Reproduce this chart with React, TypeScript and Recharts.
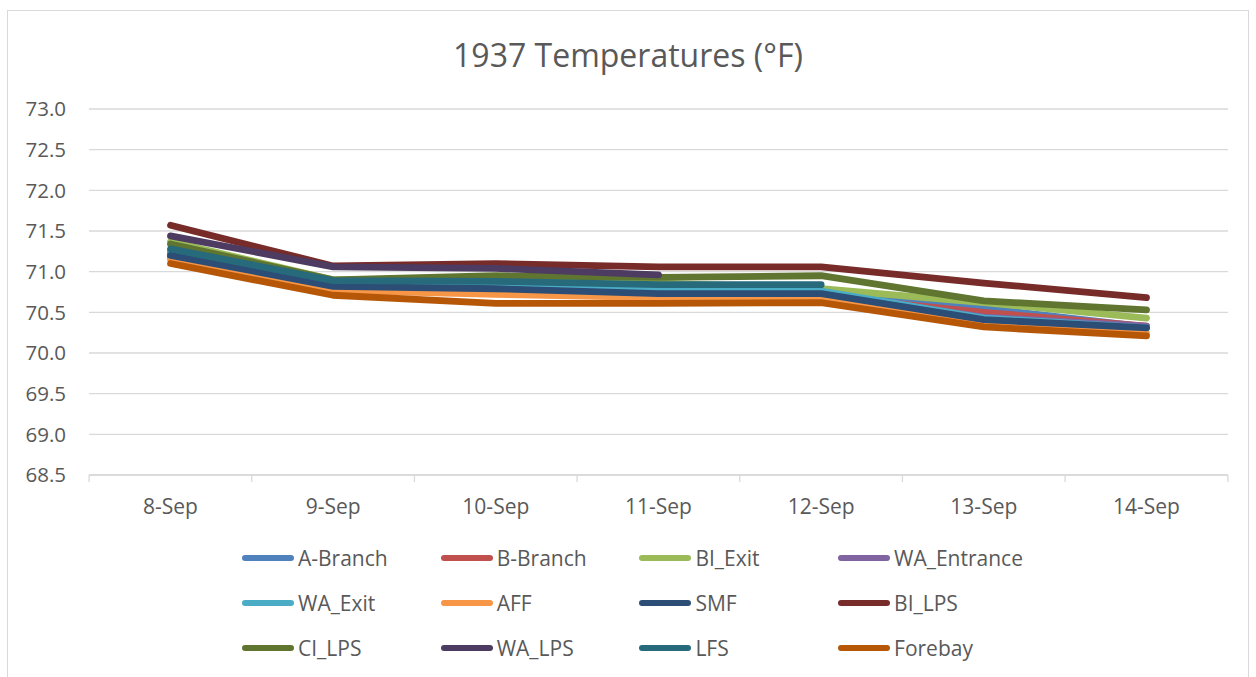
import React from "react";
import {
  LineChart,
  Line,
  XAxis,
  YAxis,
  CartesianGrid,
  Legend,
} from "recharts";

const dates = ["8-Sep", "9-Sep", "10-Sep", "11-Sep", "12-Sep", "13-Sep", "14-Sep"];
const yTicks = [68.5, 69.0, 69.5, 70.0, 70.5, 71.0, 71.5, 72.0, 72.5, 73.0];

const aBranch = [71.25, 70.84, 70.82, 70.77, 70.76, 70.55, 70.32];
const bBranch = [71.18, 70.79, 70.75, 70.7, 70.7, 70.5, 70.33];
const biExit = [71.37, 70.9, 70.9, 70.86, 70.79, 70.62, 70.43];
const waEntrance = [71.22, 70.82, 70.8, 70.75, 70.74, 70.44, 70.33];
const waExit = [71.25, 70.84, 70.82, 70.77, 70.76, 70.43, 70.31];
const aff = [71.15, 70.77, 70.72, 70.68, 70.67, 70.35, 70.24];
const smf = [71.2, 70.82, 70.79, 70.73, 70.73, 70.41, 70.31];
const biLps = [71.57, 71.07, 71.1, 71.06, 71.06, 70.86, 70.68];
const ciLps = [71.34, 70.9, 70.95, 70.93, 70.95, 70.64, 70.53];
const waLps = [71.44, 71.06, 71.04, 70.96, null, null, null];
const lfs = [71.28, 70.89, 70.88, 70.84, 70.84, null, null];
const forebay = [71.1, 70.71, 70.61, 70.61, 70.62, 70.32, 70.21];

const series = [
  { name: "A-Branch", color: "#4F81BD", values: aBranch },
  { name: "B-Branch", color: "#C0504D", values: bBranch },
  { name: "BI_Exit", color: "#9BBB59", values: biExit },
  { name: "WA_Entrance", color: "#8064A2", values: waEntrance },
  { name: "WA_Exit", color: "#4BACC6", values: waExit },
  { name: "AFF", color: "#F79646", values: aff },
  { name: "SMF", color: "#2C4D75", values: smf },
  { name: "BI_LPS", color: "#772C2A", values: biLps },
  { name: "CI_LPS", color: "#5F7530", values: ciLps },
  { name: "WA_LPS", color: "#4D3B62", values: waLps },
  { name: "LFS", color: "#276A7C", values: lfs },
  { name: "Forebay", color: "#B65708", values: forebay },
];

const data = dates.map((date, i) => {
  const row: Record<string, string | number | null> = { date };
  series.forEach((s) => {
    row[s.name] = s.values[i];
  });
  return row;
});

const FONT = "'Open Sans', sans-serif";
const TEXT = "#595959";
const GRID = "#d9d9d9";
// half of one category band, for Excel-style ticks between categories
const HALF_BAND = 81.4;

function DateTick(props: any) {
  const { x, y, payload, index } = props;
  const last = index === dates.length - 1;
  return (
    <g>
      <line x1={x - HALF_BAND} y1={y} x2={x - HALF_BAND} y2={y + 7} stroke={GRID} strokeWidth={1.3} />
      {last && (
        <line x1={x + HALF_BAND} y1={y} x2={x + HALF_BAND} y2={y + 7} stroke={GRID} strokeWidth={1.3} />
      )}
      <text x={x} y={y + 39} textAnchor="middle" fill={TEXT} fontSize={21} fontFamily={FONT}>
        {payload.value}
      </text>
    </g>
  );
}

function LegendGrid() {
  const rows = [0, 1, 2].map((r) => series.slice(r * 4, r * 4 + 4));
  return (
    <div style={{ paddingLeft: 242, fontFamily: FONT }}>
      {rows.map((row, ri) => (
        <div key={ri} style={{ display: "flex", height: 45, alignItems: "center" }}>
          {row.map((s) => (
            <div key={s.name} style={{ width: 198.7, display: "flex", alignItems: "center" }}>
              <svg width={52} height={8} style={{ flex: "none" }}>
                <line x1={3} y1={4} x2={49} y2={4} stroke={s.color} strokeWidth={6} strokeLinecap="round" />
              </svg>
              <span style={{ marginLeft: 4, fontSize: 21, color: TEXT, whiteSpace: "nowrap" }}>
                {s.name}
              </span>
            </div>
          ))}
        </div>
      ))}
    </div>
  );
}

export default function App() {
  return (
    <div
      style={{
        position: "absolute",
        left: 0,
        top: 0,
        width: 1256,
        height: 677,
        overflow: "hidden",
        background: "#fff",
      }}
    >
      <div
        style={{
          position: "absolute",
          left: 7,
          top: 10,
          width: 1240,
          height: 700,
          border: `1px solid ${GRID}`,
        }}
      />
      <div
        style={{
          position: "absolute",
          top: 35,
          width: 1256,
          textAlign: "center",
          fontFamily: FONT,
          fontSize: 32,
          lineHeight: "40px",
          color: TEXT,
        }}
      >
        1937 Temperatures (°F)
      </div>
      <LineChart
        width={1256}
        height={677}
        data={data}
        margin={{ top: 109, right: 28, bottom: 162, left: 0 }}
        style={{ fontFamily: FONT }}
      >
        <CartesianGrid vertical={false} stroke={GRID} strokeWidth={1.3} />
        <XAxis
          dataKey="date"
          height={40}
          axisLine={{ stroke: GRID, strokeWidth: 1.3 }}
          tickLine={false}
          tickSize={0}
          tickMargin={0}
          padding={{ left: 81.5, right: 81.5 }}
          tick={<DateTick />}
          interval={0}
        />
        <YAxis
          width={89}
          domain={[68.5, 73]}
          ticks={yTicks}
          axisLine={false}
          tickLine={false}
          tickSize={0}
          tickMargin={23}
          tick={{ fill: TEXT, fontSize: 20.5 }}
          tickFormatter={(v: number) => v.toFixed(1)}
          interval={0}
        />
        {series.map((s) => (
          <Line
            key={s.name}
            type="linear"
            dataKey={s.name}
            stroke={s.color}
            strokeWidth={6.8}
            strokeLinecap="round"
            strokeLinejoin="round"
            dot={false}
            activeDot={false}
            isAnimationActive={false}
          />
        ))}
        <Legend
          layout="vertical"
          align="center"
          verticalAlign="middle"
          content={() => <LegendGrid />}
          wrapperStyle={{ position: "absolute", left: 0, top: 535.5, width: 1256 }}
        />
      </LineChart>
    </div>
  );
}
